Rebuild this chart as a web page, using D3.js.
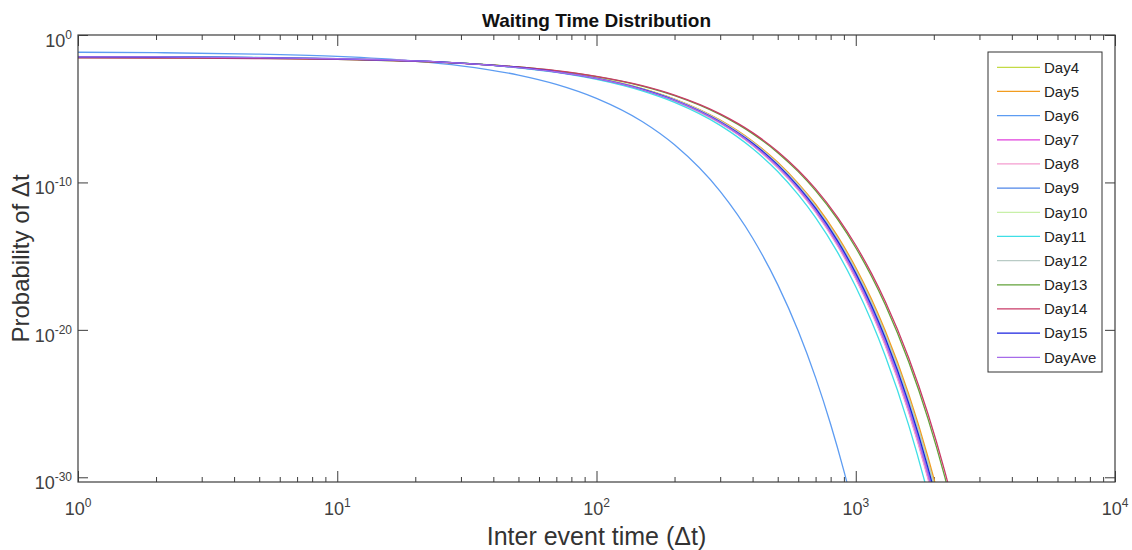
<!DOCTYPE html>
<html>
<head>
<meta charset="utf-8">
<script src="https://cdn.jsdelivr.net/npm/d3@7"></script>
<style>
body { margin: 0; background: #fff; }
text { font-family: 'Liberation Sans', Arial, Helvetica, sans-serif; }
</style>
</head>
<body>
<div id="chart"></div>
<script>
// inter event time grid (Δt) used by most days
const times = [1, 2, 5, 10, 20, 30, 50, 70, 100, 150, 200, 300, 400, 500, 600, 700, 850, 1000, 1150, 1300, 1600, 1900, 2200, 2500];
// day 6 falls off much earlier, so it gets its own grid
const timesDay6 = [1, 2, 5, 10, 20, 30, 50, 70, 100, 150, 200, 300, 400, 500, 600, 700, 800, 900, 1000];

// log10 of the probability
const day4   = [-1.49, -1.51, -1.55, -1.62, -1.77, -1.91, -2.20, -2.49, -2.92, -3.64, -4.36, -5.81, -7.25, -8.69, -10.13, -11.57, -13.74, -15.90, -18.06, -20.22, -24.55, -28.88, -33.20, -37.53];
const day5   = [-1.50, -1.51, -1.55, -1.63, -1.77, -1.91, -2.20, -2.48, -2.91, -3.63, -4.34, -5.77, -7.20, -8.63, -10.06, -11.48, -13.63, -15.77, -17.91, -20.06, -24.34, -28.63, -32.92, -37.20];
const day6   = [-1.17, -1.20, -1.30, -1.45, -1.77, -2.09, -2.72, -3.35, -4.30, -5.87, -7.45, -10.61, -13.77, -16.93, -20.08, -23.24, -26.40, -29.56, -32.71];
const day7   = [-1.48, -1.49, -1.54, -1.61, -1.76, -1.91, -2.21, -2.51, -2.96, -3.72, -4.47, -5.97, -7.47, -8.98, -10.48, -11.98, -14.23, -16.49, -18.74, -21.00, -25.50, -30.01, -34.52, -39.03];
const day8   = [-1.47, -1.49, -1.53, -1.61, -1.76, -1.91, -2.21, -2.52, -2.97, -3.72, -4.48, -5.99, -7.50, -9.01, -10.51, -12.02, -14.29, -16.55, -18.82, -21.08, -25.61, -30.13, -34.66, -39.19];
const day9   = [-1.48, -1.50, -1.54, -1.62, -1.76, -1.91, -2.21, -2.50, -2.95, -3.69, -4.43, -5.91, -7.39, -8.87, -10.35, -11.83, -14.06, -16.28, -18.50, -20.72, -25.16, -29.61, -34.05, -38.49];
const day10  = [-1.49, -1.50, -1.55, -1.62, -1.77, -1.91, -2.20, -2.49, -2.93, -3.66, -4.39, -5.84, -7.30, -8.75, -10.20, -11.66, -13.84, -16.02, -18.21, -20.39, -24.75, -29.12, -33.48, -37.85];
const day11  = [-1.46, -1.48, -1.52, -1.60, -1.76, -1.91, -2.23, -2.54, -3.01, -3.79, -4.57, -6.13, -7.70, -9.26, -10.83, -12.39, -14.73, -17.08, -19.42, -21.77, -26.46, -31.15, -35.84, -40.53];
const day12  = [-1.49, -1.51, -1.55, -1.62, -1.77, -1.91, -2.20, -2.49, -2.92, -3.65, -4.37, -5.82, -7.26, -8.71, -10.16, -11.60, -13.77, -15.94, -18.11, -20.28, -24.62, -28.96, -33.29, -37.63];
const day13  = [-1.54, -1.55, -1.59, -1.66, -1.79, -1.91, -2.17, -2.43, -2.82, -3.46, -4.11, -5.40, -6.69, -7.98, -9.27, -10.56, -12.49, -14.43, -16.36, -18.30, -22.17, -26.04, -29.91, -33.78];
const day14  = [-1.55, -1.56, -1.60, -1.66, -1.79, -1.92, -2.17, -2.42, -2.81, -3.44, -4.08, -5.35, -6.62, -7.90, -9.17, -10.44, -12.35, -14.26, -16.17, -18.08, -21.89, -25.71, -29.53, -33.35];
const day15  = [-1.49, -1.50, -1.54, -1.62, -1.76, -1.91, -2.20, -2.50, -2.94, -3.67, -4.41, -5.88, -7.34, -8.81, -10.28, -11.75, -13.95, -16.15, -18.35, -20.55, -24.96, -29.36, -33.77, -38.17];
const dayAve = [-1.48, -1.49, -1.54, -1.61, -1.76, -1.91, -2.21, -2.51, -2.95, -3.70, -4.44, -5.93, -7.42, -8.91, -10.40, -11.89, -14.13, -16.36, -18.60, -20.83, -25.30, -29.77, -34.24, -38.71];

const seriesNames = ['Day4', 'Day5', 'Day6', 'Day7', 'Day8', 'Day9', 'Day10', 'Day11', 'Day12', 'Day13', 'Day14', 'Day15', 'DayAve'];
const seriesValues = [day4, day5, day6, day7, day8, day9, day10, day11, day12, day13, day14, day15, dayAve];
const seriesColors = ['#c3da45', '#f29c1f', '#5d9cf2', '#e03fdc', '#f49ccf', '#4f86e8', '#c8f0a8', '#3fdfe6',
	'#b9cbc5', '#62a23a', '#c93a67', '#1a22e0', '#a66be9'];

const xTickValues = [1, 10, 100, 1000, 10000];
const xTickExp = ['0', '1', '2', '3', '4'];
const yTickValues = [1e-30, 1e-20, 1e-10, 1];
const yTickExp = ['-30', '-20', '-10', '0'];
const yLowest = Math.pow(10, -30.32);

const W = 1132, H = 550;
const plotLeft = 78, plotRight = 1115, plotTop = 35, plotBottom = 482;

const svg = d3.select('#chart')
	.append('svg')
	.attr('width', W)
	.attr('height', H)
	.style('background', '#fff');

const x = d3.scaleLog().domain([1, 1e4]).range([plotLeft, plotRight]);
const y = d3.scaleLog().domain([yLowest, 1]).range([plotBottom, plotTop]);

// minor ticks 2..9 in every decade
const xMinor = [];
for (let dec = 1; dec < 1e4; dec *= 10) {
	for (let k = 2; k <= 9; k++) xMinor.push(k * dec);
}

const axisColor = '#3d3d3d';

function drawAxis(axis, tx, ty) {
	svg.append('g')
		.attr('transform', 'translate(' + tx + ',' + ty + ')')
		.style('color', axisColor)
		.call(axis)
		.call(g => g.select('.domain').remove())
		.call(g => g.selectAll('.tick text').remove());
}

drawAxis(d3.axisBottom(x).tickValues(xTickValues).tickSizeInner(-11).tickSizeOuter(0), 0, plotBottom);
drawAxis(d3.axisBottom(x).tickValues(xMinor).tickSizeInner(-5).tickSizeOuter(0), 0, plotBottom);
drawAxis(d3.axisTop(x).tickValues(xTickValues).tickSizeInner(-11).tickSizeOuter(0), 0, plotTop);
drawAxis(d3.axisTop(x).tickValues(xMinor).tickSizeInner(-5).tickSizeOuter(0), 0, plotTop);
drawAxis(d3.axisLeft(y).tickValues(yTickValues).tickSizeInner(-10).tickSizeOuter(0), plotLeft, 0);
drawAxis(d3.axisRight(y).tickValues(yTickValues).tickSizeInner(-10).tickSizeOuter(0), plotRight, 0);

// clip the curves to the axes box
svg.append('clipPath')
	.attr('id', 'plot-clip')
	.append('rect')
	.attr('x', plotLeft)
	.attr('y', plotTop)
	.attr('width', plotRight - plotLeft)
	.attr('height', plotBottom - plotTop);

const line = d3.line()
	.x(d => x(d[0]))
	.y(d => y(Math.pow(10, d[1])))
	.curve(d3.curveMonotoneX);

const curves = svg.append('g').attr('clip-path', 'url(#plot-clip)');

seriesNames.forEach(function(name, i) {
	const grid = name === 'Day6' ? timesDay6 : times;
	const pts = grid.map((t, j) => [t, seriesValues[i][j]]);
	curves.append('path')
		.attr('d', line(pts))
		.style('fill', 'none')
		.style('stroke', seriesColors[i])
		.style('stroke-width', '1.3px');
});

// axes box
svg.append('rect')
	.attr('x', plotLeft)
	.attr('y', plotTop)
	.attr('width', plotRight - plotLeft)
	.attr('height', plotBottom - plotTop)
	.style('fill', 'none')
	.style('stroke', axisColor)
	.style('stroke-width', '1.2px');

// tick labels with superscript exponents
const xLabels = svg.append('g')
	.selectAll('text')
	.data(xTickValues)
	.join('text')
	.attr('x', d => x(d))
	.attr('y', 515)
	.attr('text-anchor', 'middle')
	.style('fill', '#404040')
	.style('font-size', '18px');
xLabels.append('tspan').text('10');
xLabels.append('tspan').attr('dy', -8).style('font-size', '12px').text((d, i) => xTickExp[i]);

const yLabels = svg.append('g')
	.selectAll('text')
	.data(yTickValues)
	.join('text')
	.attr('x', 72)
	.attr('y', d => y(d) + 12)
	.attr('text-anchor', 'end')
	.style('fill', '#404040')
	.style('font-size', '18px');
yLabels.append('tspan').text('10');
yLabels.append('tspan').attr('dy', -8).style('font-size', '12px').text((d, i) => yTickExp[i]);

// title and axis labels
svg.append('text')
	.attr('x', (plotLeft + plotRight) / 2)
	.attr('y', 27)
	.attr('text-anchor', 'middle')
	.style('font-size', '19px')
	.style('font-weight', 'bold')
	.style('fill', '#111')
	.text('Waiting Time Distribution');

svg.append('text')
	.attr('x', (plotLeft + plotRight) / 2)
	.attr('y', 545)
	.attr('text-anchor', 'middle')
	.style('font-size', '25px')
	.style('fill', '#333')
	.text('Inter event time (\u0394t)');

svg.append('text')
	.attr('transform', 'translate(29,' + (plotTop + plotBottom) / 2 + ') rotate(-90)')
	.attr('text-anchor', 'middle')
	.style('font-size', '24px')
	.style('fill', '#333')
	.text('Probability of \u0394t');

// legend
const legend = svg.append('g');
legend.append('rect')
	.attr('x', 988)
	.attr('y', 52)
	.attr('width', 114)
	.attr('height', 320)
	.style('fill', '#fff')
	.style('stroke', '#333')
	.style('stroke-width', '1px');

const rowY = d3.scalePoint().domain(seriesNames).range([67.3, 357.3]);

const rows = legend.selectAll('g.row')
	.data(seriesNames)
	.join('g')
	.attr('class', 'row')
	.attr('transform', d => 'translate(0,' + rowY(d) + ')');

rows.append('line')
	.attr('x1', 997)
	.attr('x2', 1040)
	.style('stroke', (d, i) => seriesColors[i])
	.style('stroke-width', '1.3px');

rows.append('text')
	.attr('x', 1044)
	.attr('dy', '0.35em')
	.style('font-size', '15px')
	.style('fill', '#222')
	.text(d => d);
</script>
</body>
</html>
